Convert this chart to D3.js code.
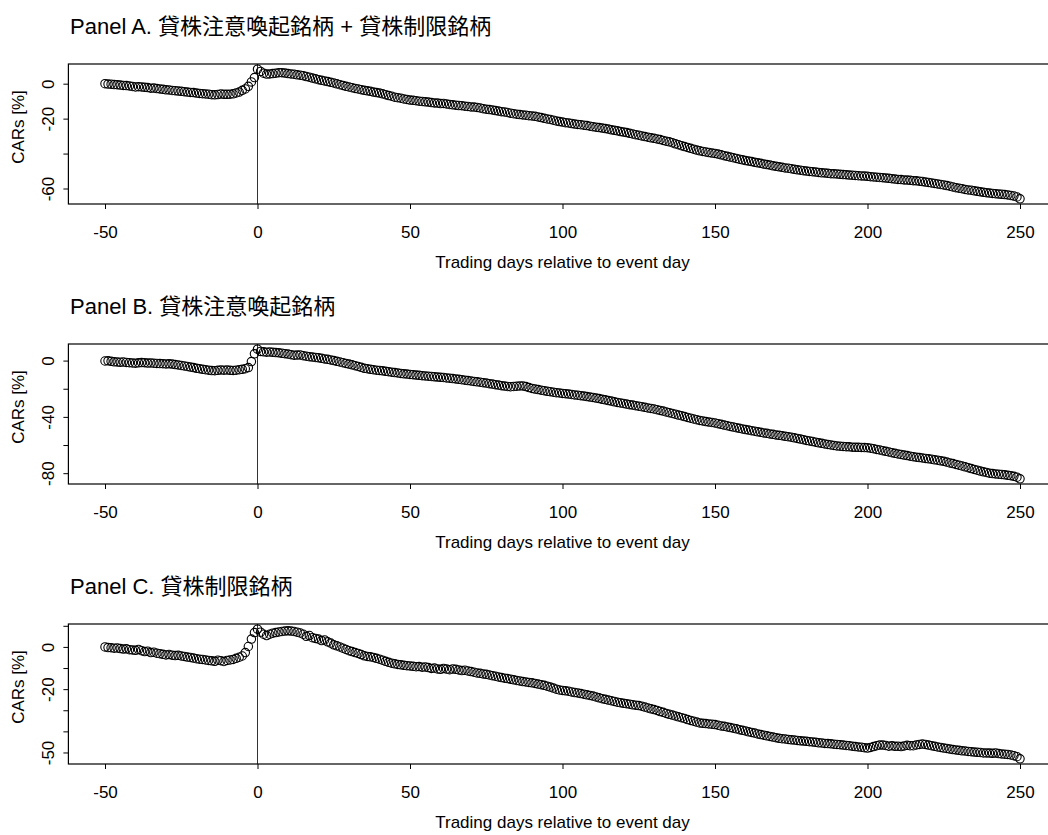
<!DOCTYPE html>
<html><head><meta charset="utf-8">
<script src="https://cdn.jsdelivr.net/npm/d3@7"></script>
<style>body{margin:0;background:#fff}svg{display:block}</style>
</head><body>
<svg id="chart" width="1048" height="835"></svg>
<script>
const days = d3.range(-50, 251);
const xTicks = [-50, 0, 50, 100, 150, 200, 250];
const titles = [
  "Panel A. 貸株注意喚起銘柄 + 貸株制限銘柄",
  "Panel B. 貸株注意喚起銘柄",
  "Panel C. 貸株制限銘柄"
];
const xLabel = "Trading days relative to event day";
const yLabel = "CARs [%]";

const carsA = [
0.0,-0.2,-0.3,-0.5,-0.6,-0.8,-1.0,-1.1,-1.3,-1.6,
-1.9,-1.7,-1.9,-2.1,-2.2,-2.6,-2.5,-2.8,-3.0,-3.2,
-3.5,-3.6,-3.9,-4.0,-4.2,-4.4,-4.6,-4.8,-5.0,-5.1,
-5.4,-5.6,-5.7,-5.9,-6.0,-6.3,-6.4,-6.2,-5.9,-6.1,
-6.1,-6.0,-5.8,-5.3,-4.8,-3.8,-3.0,-1.5,1.0,3.5,
8.3,7.0,6.0,5.5,5.6,5.8,6.0,6.3,6.3,6.1,
5.8,5.6,5.4,5.1,4.9,4.6,4.1,3.7,3.2,2.8,
2.3,1.9,1.6,1.2,0.8,0.4,-0.1,-0.6,-1.0,-1.5,
-1.9,-2.3,-2.7,-3.0,-3.4,-3.8,-4.1,-4.4,-4.8,-5.1,
-5.4,-5.8,-6.3,-6.8,-7.2,-7.7,-8.0,-8.3,-8.7,-9.0,
-9.4,-9.5,-9.7,-10.0,-10.2,-10.4,-10.5,-10.8,-11.0,-11.1,
-11.4,-11.3,-11.6,-11.9,-12.1,-12.3,-12.5,-12.6,-12.9,-13.0,
-13.3,-13.4,-13.6,-13.9,-14.3,-14.6,-14.8,-15.0,-15.4,-15.7,
-16.0,-16.2,-16.5,-16.9,-17.2,-17.5,-17.7,-17.9,-18.0,-18.3,
-18.5,-18.7,-19.0,-19.4,-19.8,-20.2,-20.5,-20.9,-21.3,-21.7,
-22.0,-22.3,-22.5,-22.8,-23.1,-23.3,-23.5,-23.8,-24.0,-24.3,
-24.6,-24.9,-25.1,-25.4,-25.7,-26.0,-26.4,-26.7,-27.0,-27.4,
-27.7,-28.0,-28.4,-28.8,-29.2,-29.5,-29.9,-30.3,-30.6,-31.0,
-31.3,-31.6,-32.0,-32.5,-32.9,-33.3,-33.8,-34.4,-34.9,-35.5,
-36.0,-36.5,-37.0,-37.5,-38.0,-38.4,-38.8,-39.1,-39.4,-39.7,
-39.9,-40.3,-40.7,-41.2,-41.6,-42.0,-42.4,-42.8,-43.2,-43.6,
-44.0,-44.3,-44.6,-45.0,-45.3,-45.6,-46.0,-46.3,-46.6,-47.0,
-47.3,-47.6,-47.9,-48.2,-48.4,-48.7,-49.0,-49.3,-49.5,-49.8,
-50.0,-50.2,-50.4,-50.6,-50.8,-51.0,-51.1,-51.3,-51.5,-51.6,
-51.7,-51.9,-52.0,-52.1,-52.3,-52.4,-52.5,-52.7,-52.8,-52.9,
-53.0,-53.2,-53.4,-53.5,-53.7,-53.8,-54.0,-54.2,-54.4,-54.6,
-54.8,-54.9,-55.1,-55.2,-55.3,-55.5,-55.6,-55.8,-56.0,-56.3,
-56.5,-56.8,-57.1,-57.4,-57.7,-58.0,-58.3,-58.7,-59.1,-59.5,
-59.8,-60.1,-60.5,-60.8,-61.0,-61.3,-61.6,-61.9,-62.2,-62.4,
-62.6,-62.8,-63.0,-63.2,-63.3,-63.5,-63.7,-64.0,-64.3,-64.8,
-65.9
];

const carsB = [
-0.3,-0.2,-0.5,-0.9,-1.0,-1.2,-1.0,-1.3,-1.5,-1.7,
-1.9,-1.6,-1.4,-1.5,-1.8,-1.7,-1.9,-2.0,-2.1,-2.2,
-2.4,-2.3,-2.5,-2.8,-3.1,-3.5,-3.8,-4.2,-4.6,-5.0,
-5.5,-5.8,-6.2,-6.5,-6.8,-7.1,-7.2,-6.9,-6.6,-6.8,
-6.7,-6.9,-7.0,-6.8,-6.5,-6.2,-5.8,-5.0,-0.7,4.8,
8.1,6.5,6.2,6.0,6.1,5.9,5.7,5.5,5.2,4.9,
4.6,4.2,3.8,3.9,4.0,3.5,3.1,2.8,2.5,2.2,
2.0,1.6,1.2,0.9,0.5,0.0,-0.5,-1.0,-1.5,-2.0,
-2.5,-3.0,-3.6,-4.2,-4.8,-5.5,-5.8,-6.2,-6.5,-6.8,
-7.0,-7.3,-7.6,-7.9,-8.2,-8.5,-8.8,-9.1,-9.4,-9.6,
-9.8,-10.0,-10.3,-10.5,-10.7,-10.9,-11.1,-11.3,-11.5,-11.7,
-11.9,-12.0,-12.3,-12.5,-12.8,-13.0,-13.3,-13.6,-13.9,-14.2,
-14.5,-14.8,-15.1,-15.4,-15.7,-16.0,-16.4,-16.7,-17.1,-17.4,
-17.8,-18.1,-18.4,-18.6,-18.4,-18.2,-18.0,-18.0,-18.5,-19.2,
-19.8,-20.2,-20.6,-21.0,-21.4,-21.8,-22.1,-22.5,-22.8,-23.0,
-23.3,-23.5,-23.8,-24.1,-24.4,-24.6,-24.9,-25.2,-25.6,-25.9,
-26.2,-26.6,-27.0,-27.5,-27.9,-28.4,-28.8,-29.3,-29.7,-30.1,
-30.5,-30.9,-31.3,-31.6,-32.0,-32.4,-32.8,-33.2,-33.6,-34.0,
-34.4,-34.9,-35.4,-35.9,-36.5,-37.0,-37.6,-38.1,-38.7,-39.2,
-39.8,-40.4,-40.9,-41.5,-42.0,-42.5,-42.9,-43.3,-43.7,-44.0,
-44.3,-44.8,-45.3,-45.8,-46.3,-46.8,-47.2,-47.7,-48.1,-48.6,
-49.0,-49.4,-49.8,-50.2,-50.6,-51.0,-51.4,-51.7,-52.1,-52.4,
-52.8,-53.1,-53.4,-53.8,-54.1,-54.4,-54.9,-55.3,-55.8,-56.2,
-56.7,-57.1,-57.5,-58.0,-58.4,-58.8,-59.2,-59.6,-59.9,-60.3,
-60.6,-60.8,-61.0,-61.2,-61.3,-61.5,-61.6,-61.6,-61.7,-61.8,
-61.9,-62.2,-62.6,-63.1,-63.5,-64.0,-64.5,-64.9,-65.4,-65.9,
-66.3,-66.7,-67.1,-67.5,-67.9,-68.3,-68.6,-68.9,-69.2,-69.5,
-69.8,-70.1,-70.5,-70.8,-71.2,-71.6,-72.1,-72.7,-73.2,-73.8,
-74.3,-74.9,-75.5,-76.1,-76.7,-77.3,-77.9,-78.5,-79.0,-79.5,
-80.0,-80.3,-80.5,-80.7,-80.9,-81.2,-81.5,-81.8,-82.2,-82.8,
-84.0
];

const carsC = [
0.0,-0.3,-0.4,-0.6,-0.5,-0.8,-1.0,-0.9,-1.3,-1.4,
-1.6,-1.2,-1.8,-2.2,-2.0,-2.7,-2.5,-3.0,-3.2,-3.5,
-3.8,-3.6,-3.9,-4.1,-4.0,-4.3,-4.5,-4.8,-5.0,-5.3,
-5.6,-5.8,-5.9,-6.2,-6.4,-6.6,-6.8,-6.3,-6.5,-6.9,
-6.4,-6.2,-5.9,-5.4,-4.9,-4.3,-2.7,0.2,3.7,6.8,
8.4,7.0,6.0,5.4,6.0,6.5,6.8,7.1,7.3,7.5,
7.6,7.5,7.3,7.0,6.6,6.0,5.0,5.4,4.4,4.0,
3.7,3.0,3.3,2.4,1.8,1.0,0.5,0.0,-0.6,-1.2,
-1.8,-2.2,-2.7,-3.1,-3.6,-4.2,-4.5,-4.7,-5.0,-5.4,
-5.8,-6.3,-6.8,-7.3,-7.7,-8.0,-8.3,-8.5,-8.7,-8.9,
-9.0,-9.2,-9.4,-9.3,-9.6,-9.5,-9.8,-10.2,-10.0,-10.4,
-10.6,-10.2,-10.5,-10.8,-10.4,-10.6,-10.9,-11.2,-11.0,-11.4,
-11.7,-12.0,-12.3,-12.5,-12.8,-13.0,-13.3,-13.6,-13.9,-14.2,
-14.5,-14.8,-15.0,-15.3,-15.6,-15.9,-16.1,-16.4,-16.6,-16.8,
-17.0,-17.3,-17.6,-17.9,-18.2,-18.6,-19.0,-19.5,-20.0,-20.4,
-20.6,-20.8,-21.0,-21.3,-21.6,-21.8,-22.1,-22.4,-22.7,-23.0,
-23.3,-23.7,-24.1,-24.5,-24.8,-25.2,-25.5,-25.8,-26.2,-26.4,
-26.7,-26.9,-27.1,-27.4,-27.6,-27.8,-28.1,-28.5,-28.9,-29.3,
-29.7,-30.1,-30.6,-31.0,-31.5,-31.9,-32.3,-32.7,-33.1,-33.5,
-33.9,-34.4,-34.8,-35.2,-35.6,-36.0,-36.2,-36.3,-36.5,-36.6,
-36.8,-37.1,-37.4,-37.6,-37.9,-38.2,-38.5,-38.8,-39.2,-39.5,
-39.8,-40.2,-40.5,-40.8,-41.2,-41.5,-41.8,-42.1,-42.4,-42.7,
-43.0,-43.3,-43.5,-43.6,-43.8,-44.0,-44.1,-44.3,-44.5,-44.6,
-44.7,-44.9,-45.0,-45.2,-45.4,-45.5,-45.7,-45.8,-45.9,-46.1,
-46.2,-46.3,-46.5,-46.7,-46.8,-47.0,-47.2,-47.4,-47.5,-47.7,
-47.9,-47.6,-47.2,-46.8,-46.5,-46.5,-46.7,-47.0,-46.8,-47.1,
-47.0,-47.2,-46.9,-46.6,-46.8,-46.8,-46.4,-46.2,-46.0,-46.2,
-46.5,-46.8,-47.1,-47.4,-47.6,-47.9,-48.1,-48.4,-48.6,-48.8,
-49.0,-49.2,-49.3,-49.5,-49.6,-49.8,-49.9,-50.0,-50.2,-50.2,
-50.3,-50.4,-50.2,-50.5,-50.7,-50.8,-50.9,-51.2,-51.5,-52.0,
-53.0
];

const yTicksA = [0, -20, -40, -60];
const yLabelsA = [0, -20, -60];
const yTicksB = [0, -20, -40, -60, -80];
const yLabelsB = [0, -40, -80];
const yTicksC = [10, 0, -10, -20, -30, -40, -50];
const yLabelsC = [0, -20, -50];

const panels = [
  {title: titles[0], values: carsA, yTicks: yTicksA, yLabels: yLabelsA},
  {title: titles[1], values: carsB, yTicks: yTicksB, yLabels: yLabelsB},
  {title: titles[2], values: carsC, yTicks: yTicksC, yLabels: yLabelsC}
];

const FONT = "'Liberation Sans', Arial, 'Noto Sans CJK JP', sans-serif";
const svg = d3.select("#chart");
svg.append("rect").attr("width", 1048).attr("height", 835).attr("fill", "#fff");

const x = d3.scaleLinear().domain([-50, 250]).range([105, 1020]);
const pad = 0.04 * (250 - (-50));
const bx0 = x(-50 - pad), bx1 = x(250 + pad);
const H = 140;

panels.forEach((p, i) => {
  const top = 64 + i * 280, bottom = top + H;
  const ext = d3.extent(p.values);
  const yp = 0.04 * (ext[1] - ext[0]);
  const y = d3.scaleLinear().domain([ext[0] - yp, ext[1] + yp]).range([bottom, top]);
  const g = svg.append("g");

  g.append("text").attr("x", 70).attr("y", top - 30)
    .attr("font-family", FONT).attr("font-size", 22).attr("fill", "#000")
    .text(p.title);

  // event-day line
  g.append("line").attr("x1", x(0)).attr("x2", x(0)).attr("y1", top).attr("y2", bottom)
    .attr("stroke", "#333").attr("stroke-width", 1);

  // points
  g.append("g").selectAll("circle").data(days.map((d, k) => [d, p.values[k]]))
    .join("circle")
    .attr("cx", d => x(d[0])).attr("cy", d => y(d[1])).attr("r", 4.2)
    .attr("fill", "none").attr("stroke", "#000").attr("stroke-width", 1.1);

  // box
  g.append("rect").attr("x", bx0).attr("y", top).attr("width", bx1 - bx0).attr("height", H)
    .attr("fill", "none").attr("stroke", "#000").attr("stroke-width", 1.2);

  // x axis
  const xa = g.append("g").attr("transform", `translate(0,${bottom})`)
    .call(d3.axisBottom(x).tickValues(xTicks).tickSize(5).tickSizeOuter(0).tickPadding(17)
      .tickFormat(d => String(d)));
  xa.select(".domain").remove();
  xa.selectAll("text").attr("font-family", FONT).attr("font-size", 17).attr("fill", "#000");
  xa.selectAll("line").attr("stroke", "#000");

  // y axis
  const ya = g.append("g").attr("transform", `translate(${bx0},0)`)
    .call(d3.axisLeft(y).tickValues(p.yTicks).tickSize(5).tickSizeOuter(0)
      .tickFormat(d => p.yLabels.includes(d) ? String(d) : ""));
  ya.select(".domain").remove();
  ya.selectAll("line").attr("stroke", "#000");
  ya.selectAll("text")
    .attr("font-family", FONT).attr("font-size", 17).attr("fill", "#000")
    .attr("transform", "rotate(-90)")
    .attr("x", 0).attr("y", -14).attr("dy", 0)
    .attr("text-anchor", "middle");

  // axis titles
  g.append("text").attr("x", (bx0 + bx1) / 2).attr("y", bottom + 64)
    .attr("text-anchor", "middle").attr("font-family", FONT).attr("font-size", 17)
    .attr("fill", "#000").text(xLabel);
  g.append("text")
    .attr("transform", `translate(24,${(top + bottom) / 2 - 7}) rotate(-90)`)
    .attr("text-anchor", "middle").attr("font-family", FONT).attr("font-size", 17)
    .attr("fill", "#000").text(yLabel);
});
</script>
</body></html>
